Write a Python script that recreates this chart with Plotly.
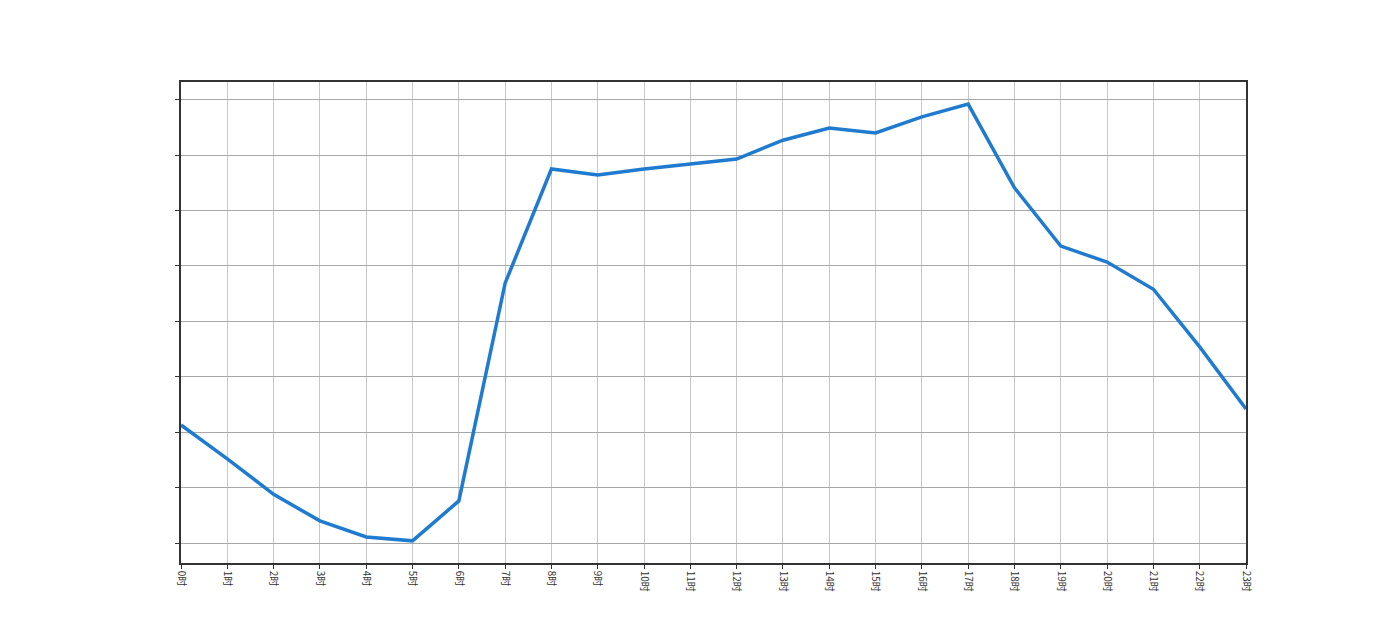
import plotly.graph_objects as go

hours = [f"{i}时" for i in range(24)]
values = [2.13, 1.52, 0.88, 0.40, 0.11, 0.04, 0.76, 4.69, 6.75, 6.64, 6.75, 6.84,
          6.93, 7.27, 7.49, 7.40, 7.69, 7.92, 6.41, 5.36, 5.07, 4.58, 3.54, 2.42]
y_ticks = list(range(9))

fig = go.Figure(go.Scatter(x=list(range(24)), y=values, mode="lines",
                           line=dict(color="#1f7bd0", width=3.5), hoverinfo="skip"))
fig.update_layout(
    width=1378, height=624, paper_bgcolor="white", plot_bgcolor="white",
    margin=dict(l=173, r=140, t=74, b=69), showlegend=False,
    font=dict(family="Noto Sans CJK SC", size=10, color="#333"),
)
fig.update_xaxes(range=[0, 23], tickmode="array", tickvals=list(range(24)), ticktext=hours,
                 tickangle=90, showgrid=True, gridcolor="#c8c8c8", gridwidth=1,
                 ticks="outside", ticklen=4, tickcolor="#333",
                 showline=True, linecolor="#333", linewidth=1.5, mirror=True, zeroline=False)
fig.update_yaxes(range=[-0.36, 8.32], tickmode="array", tickvals=y_ticks, showticklabels=False,
                 showgrid=True, gridcolor="#a8a8a8", gridwidth=1,
                 ticks="outside", ticklen=4, tickcolor="#333",
                 showline=True, linecolor="#333", linewidth=1.5, mirror=True, zeroline=False)
fig.write_html("out.html")
